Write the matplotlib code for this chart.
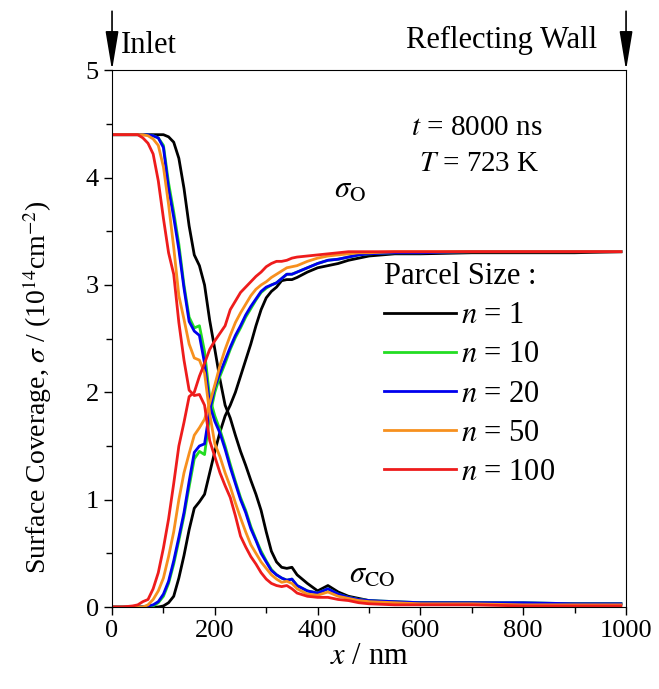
import numpy as np
import matplotlib.pyplot as plt

plt.rcParams['font.family'] = ['Liberation Serif', 'DejaVu Serif']
plt.rcParams['mathtext.fontset'] = 'stix'

# positions along the channel (nm)
x = [0, 20, 40, 50, 60, 70, 80, 90, 100, 110, 120, 130, 140, 150, 160, 170, 180,
     190, 200, 210, 220, 230, 240, 250, 260, 270, 280, 290, 300, 310, 320, 330,
     340, 350, 360, 380, 400, 420, 440, 460, 480, 500, 550, 600, 700, 800, 900, 990]

labels = ['1', '10', '20', '50', '100']
colors = ['black', '#22dd22', '#0000ee', '#f7901e', '#ee1c1c']

# sigma_CO for each parcel size
co_n1 = [4.4, 4.4, 4.4, 4.4, 4.4, 4.4, 4.4, 4.4, 4.4, 4.38, 4.33, 4.18, 3.9, 3.55, 3.28, 3.18, 3.0,
         2.67, 2.4, 2.12, 1.88, 1.76, 1.6, 1.45, 1.32, 1.18, 1.05, 0.9, 0.7, 0.52, 0.42, 0.37,
         0.36, 0.37, 0.3, 0.22, 0.15, 0.2, 0.14, 0.1, 0.08, 0.06, 0.04, 0.04, 0.04, 0.03, 0.03, 0.03]
co_n10 = [4.4, 4.4, 4.4, 4.4, 4.4, 4.4, 4.39, 4.37, 4.3, 3.95, 3.68, 3.38, 3.0, 2.7, 2.6, 2.62, 2.38,
          1.95, 1.78, 1.65, 1.5, 1.33, 1.17, 1.02, 0.9, 0.75, 0.63, 0.52, 0.43, 0.35, 0.3, 0.27,
          0.25, 0.26, 0.2, 0.15, 0.13, 0.17, 0.12, 0.09, 0.07, 0.06, 0.05, 0.04, 0.04, 0.04, 0.03, 0.03]
co_n20 = [4.4, 4.4, 4.4, 4.4, 4.4, 4.4, 4.39, 4.37, 4.28, 3.9, 3.63, 3.33, 2.97, 2.66, 2.57, 2.53, 2.27,
          1.88, 1.73, 1.62, 1.47, 1.3, 1.15, 1.0, 0.88, 0.73, 0.62, 0.5, 0.42, 0.34, 0.3, 0.27,
          0.25, 0.26, 0.2, 0.15, 0.13, 0.17, 0.12, 0.09, 0.07, 0.06, 0.05, 0.04, 0.04, 0.04, 0.03, 0.03]
co_n50 = [4.4, 4.4, 4.4, 4.4, 4.4, 4.39, 4.36, 4.3, 4.1, 3.75, 3.35, 2.9, 2.68, 2.45, 2.32, 2.3, 2.18,
          1.8, 1.52, 1.4, 1.25, 1.12, 0.97, 0.83, 0.7, 0.58, 0.5, 0.42, 0.36, 0.3, 0.26, 0.23,
          0.24, 0.22, 0.17, 0.12, 0.11, 0.14, 0.1, 0.08, 0.06, 0.05, 0.04, 0.03, 0.03, 0.02, 0.02, 0.02]
co_n100 = [4.4, 4.4, 4.4, 4.4, 4.37, 4.32, 4.22, 3.97, 3.62, 3.3, 3.1, 2.65, 2.3, 2.02, 1.97, 1.98, 1.88,
           1.55, 1.4, 1.25, 1.13, 1.02, 0.85, 0.66, 0.56, 0.47, 0.4, 0.32, 0.26, 0.22, 0.2, 0.19,
           0.2, 0.17, 0.13, 0.1, 0.09, 0.09, 0.07, 0.06, 0.04, 0.03, 0.02, 0.02, 0.02, 0.01, 0.01, 0.01]

# sigma_O for each parcel size
o_n1 = [0.0, 0.0, 0.0, 0.0, 0.0, 0.0, 0.0, 0.0, 0.01, 0.04, 0.1, 0.27, 0.48, 0.72, 0.92, 0.98, 1.05,
        1.25, 1.45, 1.63, 1.78, 1.88, 2.0, 2.15, 2.3, 2.45, 2.62, 2.77, 2.88, 2.94, 2.98, 3.04,
        3.05, 3.05, 3.07, 3.12, 3.16, 3.18, 3.2, 3.23, 3.25, 3.27, 3.29, 3.29, 3.3, 3.3, 3.3, 3.31]
o_n10 = [0.0, 0.0, 0.0, 0.0, 0.0, 0.0, 0.01, 0.04, 0.1, 0.22, 0.4, 0.62, 0.85, 1.12, 1.38, 1.45, 1.42,
         1.78, 2.0, 2.15, 2.27, 2.4, 2.51, 2.6, 2.7, 2.78, 2.86, 2.93, 2.97, 3.0, 3.02, 3.06,
         3.1, 3.1, 3.12, 3.16, 3.2, 3.23, 3.24, 3.26, 3.28, 3.29, 3.3, 3.3, 3.31, 3.31, 3.31, 3.31]
o_n20 = [0.0, 0.0, 0.0, 0.0, 0.0, 0.01, 0.02, 0.05, 0.12, 0.24, 0.43, 0.65, 0.88, 1.17, 1.44, 1.5, 1.52,
         1.83, 2.05, 2.18, 2.3, 2.42, 2.53, 2.62, 2.72, 2.8, 2.87, 2.94, 2.98, 3.0, 3.02, 3.06,
         3.1, 3.1, 3.12, 3.16, 3.2, 3.23, 3.24, 3.26, 3.28, 3.29, 3.3, 3.3, 3.31, 3.31, 3.31, 3.31]
o_n50 = [0.0, 0.0, 0.0, 0.0, 0.0, 0.02, 0.07, 0.15, 0.27, 0.47, 0.7, 1.0, 1.25, 1.43, 1.6, 1.67, 1.75,
         1.9, 2.07, 2.25, 2.4, 2.53, 2.65, 2.74, 2.82, 2.9, 2.96, 3.0, 3.03, 3.07, 3.1, 3.13,
         3.16, 3.17, 3.18, 3.22, 3.25, 3.27, 3.28, 3.29, 3.3, 3.3, 3.31, 3.31, 3.31, 3.31, 3.31, 3.31]
o_n100 = [0.0, 0.0, 0.01, 0.02, 0.05, 0.07, 0.17, 0.32, 0.55, 0.82, 1.15, 1.5, 1.72, 1.96, 2.0, 2.15, 2.27,
          2.4, 2.48, 2.55, 2.62, 2.77, 2.85, 2.93, 2.98, 3.03, 3.08, 3.12, 3.17, 3.2, 3.22, 3.22,
          3.23, 3.25, 3.26, 3.27, 3.28, 3.29, 3.3, 3.31, 3.31, 3.31, 3.31, 3.31, 3.31, 3.31, 3.31, 3.31]

co_series = [co_n1, co_n10, co_n20, co_n50, co_n100]
o_series = [o_n1, o_n10, o_n20, o_n50, o_n100]

fig = plt.figure(figsize=(6.59, 6.89), dpi=100)
ax = fig.add_axes([0.170, 0.119, 0.780, 0.779])

for lab, col, co, o in zip(labels, colors, co_series, o_series):
    ax.plot(x, co, color=col, lw=2, label='$n$ = ' + lab)
    ax.plot(x, o, color=col, lw=2)

ax.set_xlim(0, 1000)
ax.set_ylim(0, 5)
ax.set_xticks(np.arange(0, 1001, 200))
ax.set_xticks(np.arange(100, 1000, 200), minor=True)
ax.set_yticks(np.arange(0, 6, 1))
ax.set_yticks(np.arange(0.5, 5, 1), minor=True)
ax.tick_params(which='both', direction='out', top=False, right=False, labelsize=19, width=1)
ax.tick_params(which='major', length=6)
ax.tick_params(which='minor', length=4)

ax.set_xlabel('$x$ / nm', fontsize=22, labelpad=0)
ax.set_ylabel(r'Surface Coverage, $\sigma$ / (10$^{14}$cm$^{-2}$)', fontsize=20)
ax.yaxis.set_label_coords(-0.113, 0.41)

# arrows for inlet and reflecting wall
arrow = dict(arrowstyle='-|>,head_length=1.2,head_width=0.2', color='black', lw=1.2,
             shrinkA=0, shrinkB=0, mutation_scale=20)
ax.annotate('', xy=(0, 5), xytext=(0, 5.55), arrowprops=arrow, annotation_clip=False)
ax.annotate('', xy=(1000, 5), xytext=(1000, 5.55), arrowprops=arrow, annotation_clip=False)
ax.text(18, 5.23, 'Inlet', fontsize=22, va='center', ha='left')
ax.text(757, 5.28, 'Reflecting Wall', fontsize=22, va='center', ha='center')

ax.text(710, 4.46, '$t$ = 8000 ns', fontsize=21, ha='center', va='center')
ax.text(715, 4.13, '$T$ = 723 K', fontsize=21, ha='center', va='center')
ax.text(463, 3.88, r'$\sigma_{\mathrm{O}}$', fontsize=22, ha='center', va='center')
ax.text(505, 0.3, r'$\sigma_{\mathrm{CO}}$', fontsize=22, ha='center', va='center')

leg = ax.legend(title='Parcel Size :', loc='upper left', bbox_to_anchor=(0.505, 0.665),
                frameon=False, fontsize=22, title_fontsize=22, handlelength=2.35,
                labelspacing=0.33, handletextpad=0.18, borderaxespad=0)
leg._legend_box.align = 'left'

fig.savefig('out.png', dpi=100)
